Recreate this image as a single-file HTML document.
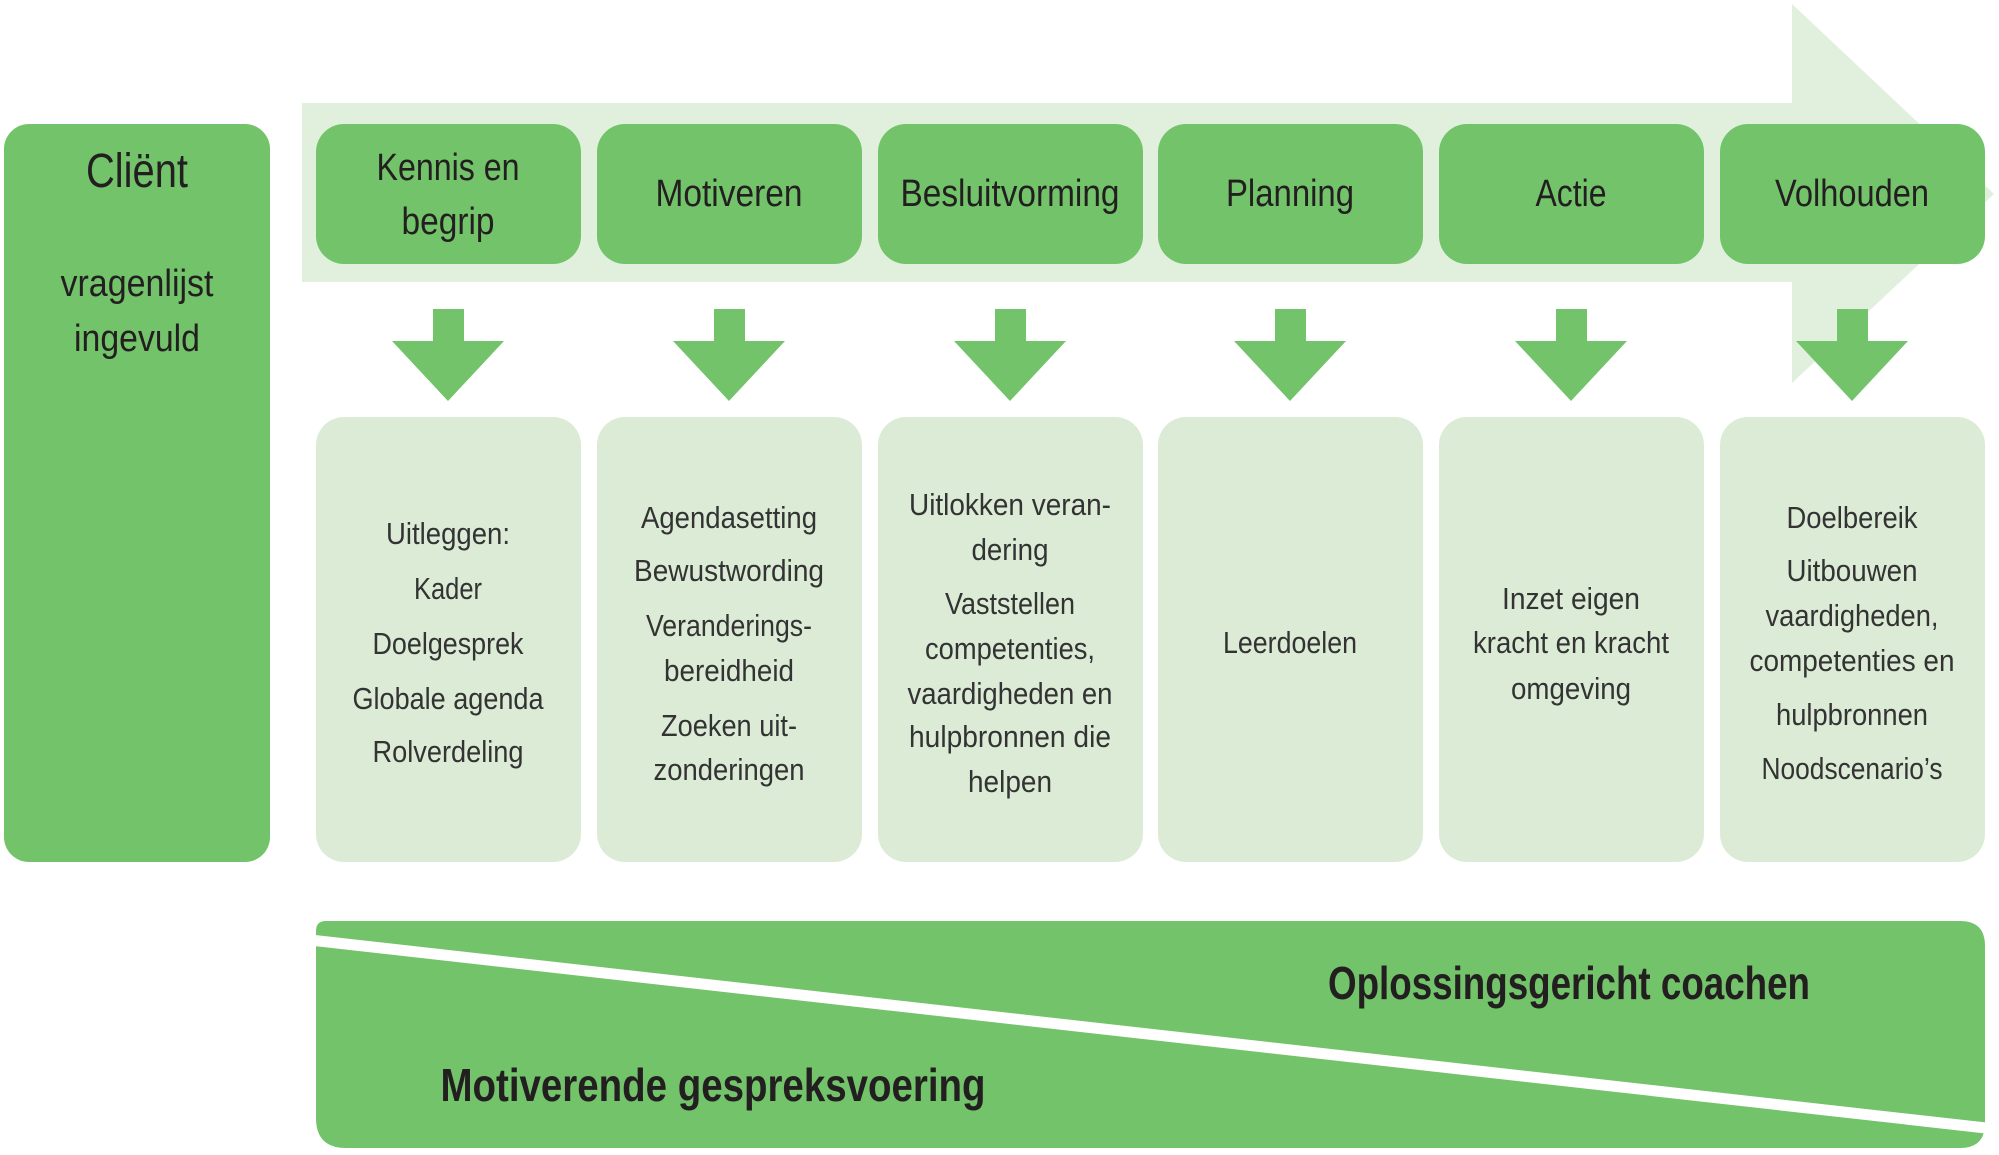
<!DOCTYPE html>
<html><head><meta charset="utf-8"><style>
html,body{margin:0;padding:0;background:#fff;width:1999px;height:1155px;overflow:hidden}
svg{display:block}
text{font-family:"Liberation Sans Narrow","Liberation Sans",sans-serif;fill:#231f20;text-anchor:middle}
.h{font-size:38px}
.l{font-size:31px;fill:#333}
</style></head><body>
<svg width="1999" height="1155" viewBox="0 0 1999 1155" xmlns="http://www.w3.org/2000/svg">
<!-- big background arrow -->
<polygon points="302,103 1792,103 1792,4 1994,194 1792,383 1792,282 302,282" fill="#e0f0dc"/>
<!-- client -->
<rect x="4" y="124" width="266" height="738" rx="25" fill="#72c36a"/>
<text x="137" y="187" font-size="48" textLength="102" lengthAdjust="spacingAndGlyphs">Cliënt</text>
<text x="137" y="296" font-size="38" textLength="153" lengthAdjust="spacingAndGlyphs">vragenlijst</text>
<text x="137" y="351" font-size="38" textLength="126" lengthAdjust="spacingAndGlyphs">ingevuld</text>
<!-- top boxes -->
<g fill="#72c36a">
<rect x="316" y="124" width="265" height="140" rx="28"/>
<rect x="597" y="124" width="265" height="140" rx="28"/>
<rect x="878" y="124" width="265" height="140" rx="28"/>
<rect x="1158" y="124" width="265" height="140" rx="28"/>
<rect x="1439" y="124" width="265" height="140" rx="28"/>
<rect x="1720" y="124" width="265" height="140" rx="28"/>
</g>
<text class="h" x="448" y="180" textLength="143" lengthAdjust="spacingAndGlyphs">Kennis en</text>
<text class="h" x="448" y="234" textLength="93" lengthAdjust="spacingAndGlyphs">begrip</text>
<text class="h" x="729" y="206" textLength="147" lengthAdjust="spacingAndGlyphs">Motiveren</text>
<text class="h" x="1010" y="206" textLength="219" lengthAdjust="spacingAndGlyphs">Besluitvorming</text>
<text class="h" x="1290" y="206" textLength="128" lengthAdjust="spacingAndGlyphs">Planning</text>
<text class="h" x="1571" y="206" textLength="71" lengthAdjust="spacingAndGlyphs">Actie</text>
<text class="h" x="1852" y="206" textLength="154" lengthAdjust="spacingAndGlyphs">Volhouden</text>
<!-- down arrows -->
<g fill="#72c36a">
<polygon points="433,309 464,309 464,341 504,341 448,401 392,341 433,341"/>
<polygon points="714,309 745,309 745,341 785,341 729,401 673,341 714,341"/>
<polygon points="995,309 1026,309 1026,341 1066,341 1010,401 954,341 995,341"/>
<polygon points="1275,309 1306,309 1306,341 1346,341 1290,401 1234,341 1275,341"/>
<polygon points="1556,309 1587,309 1587,341 1627,341 1571,401 1515,341 1556,341"/>
<polygon points="1837,309 1868,309 1868,341 1908,341 1852,401 1796,341 1837,341"/>
</g>
<!-- lower boxes -->
<g fill="#dcebd6">
<rect x="316" y="417" width="265" height="445" rx="28"/>
<rect x="597" y="417" width="265" height="445" rx="28"/>
<rect x="878" y="417" width="265" height="445" rx="28"/>
<rect x="1158" y="417" width="265" height="445" rx="28"/>
<rect x="1439" y="417" width="265" height="445" rx="28"/>
<rect x="1720" y="417" width="265" height="445" rx="28"/>
</g>
<g class="l">
<text class="l" x="448" y="544" textLength="124" lengthAdjust="spacingAndGlyphs">Uitleggen:</text>
<text class="l" x="448" y="599" textLength="68" lengthAdjust="spacingAndGlyphs">Kader</text>
<text class="l" x="448" y="654" textLength="151" lengthAdjust="spacingAndGlyphs">Doelgesprek</text>
<text class="l" x="448" y="709" textLength="191" lengthAdjust="spacingAndGlyphs">Globale agenda</text>
<text class="l" x="448" y="762" textLength="151" lengthAdjust="spacingAndGlyphs">Rolverdeling</text>

<text class="l" x="729" y="528" textLength="176" lengthAdjust="spacingAndGlyphs">Agendasetting</text>
<text class="l" x="729" y="581" textLength="190" lengthAdjust="spacingAndGlyphs">Bewustwording</text>
<text class="l" x="729" y="636" textLength="166" lengthAdjust="spacingAndGlyphs">Veranderings-</text>
<text class="l" x="729" y="681" textLength="130" lengthAdjust="spacingAndGlyphs">bereidheid</text>
<text class="l" x="729" y="736" textLength="136" lengthAdjust="spacingAndGlyphs">Zoeken uit-</text>
<text class="l" x="729" y="780" textLength="151" lengthAdjust="spacingAndGlyphs">zonderingen</text>

<text class="l" x="1010" y="515" textLength="202" lengthAdjust="spacingAndGlyphs">Uitlokken veran-</text>
<text class="l" x="1010" y="560" textLength="77" lengthAdjust="spacingAndGlyphs">dering</text>
<text class="l" x="1010" y="614" textLength="130" lengthAdjust="spacingAndGlyphs">Vaststellen</text>
<text class="l" x="1010" y="659" textLength="170" lengthAdjust="spacingAndGlyphs">competenties,</text>
<text class="l" x="1010" y="704" textLength="205" lengthAdjust="spacingAndGlyphs">vaardigheden en</text>
<text class="l" x="1010" y="747" textLength="202" lengthAdjust="spacingAndGlyphs">hulpbronnen die</text>
<text class="l" x="1010" y="792" textLength="84" lengthAdjust="spacingAndGlyphs">helpen</text>

<text class="l" x="1290" y="653" textLength="134" lengthAdjust="spacingAndGlyphs">Leerdoelen</text>

<text class="l" x="1571" y="609" textLength="138" lengthAdjust="spacingAndGlyphs">Inzet eigen</text>
<text class="l" x="1571" y="653" textLength="196" lengthAdjust="spacingAndGlyphs">kracht en kracht</text>
<text class="l" x="1571" y="699" textLength="120" lengthAdjust="spacingAndGlyphs">omgeving</text>

<text class="l" x="1852" y="528" textLength="131" lengthAdjust="spacingAndGlyphs">Doelbereik</text>
<text class="l" x="1852" y="581" textLength="131" lengthAdjust="spacingAndGlyphs">Uitbouwen</text>
<text class="l" x="1852" y="626" textLength="173" lengthAdjust="spacingAndGlyphs">vaardigheden,</text>
<text class="l" x="1852" y="671" textLength="205" lengthAdjust="spacingAndGlyphs">competenties en</text>
<text class="l" x="1852" y="725" textLength="152" lengthAdjust="spacingAndGlyphs">hulpbronnen</text>
<text class="l" x="1852" y="779" textLength="181" lengthAdjust="spacingAndGlyphs">Noodscenario’s</text>
</g>
<!-- bottom banner -->
<path d="M326,921 L1960,921 Q1985,921 1985,946 L1985,1123 Q1985,1148 1960,1148 L346,1148 Q316,1148 316,1118 L316,931 Q316,921 326,921 Z" fill="#72c36a"/>
<line x1="310" y1="940" x2="1995" y2="1129" stroke="#fff" stroke-width="11"/>
<text x="1569" y="999" font-size="46" font-weight="bold" textLength="482" lengthAdjust="spacingAndGlyphs">Oplossingsgericht coachen</text>
<text x="713" y="1101" font-size="46" font-weight="bold" textLength="545" lengthAdjust="spacingAndGlyphs">Motiverende gespreksvoering</text>
</svg>
</body></html>
